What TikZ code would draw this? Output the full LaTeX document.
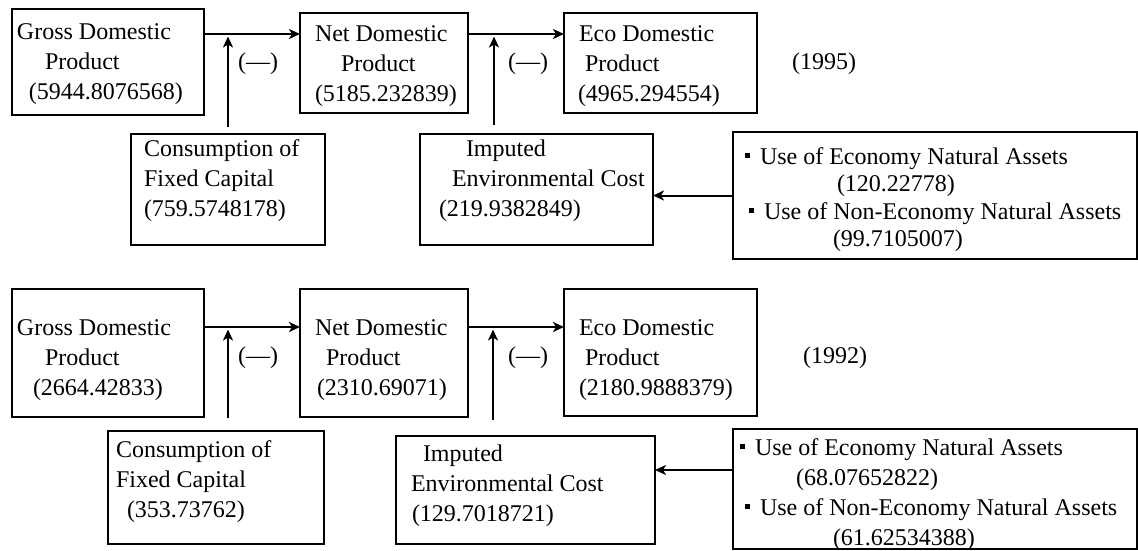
\documentclass[tikz,border=0pt]{standalone}
\usepackage{fontspec}
\setmainfont{Liberation Serif}
\usetikzlibrary{arrows.meta}
\newcommand\st{\rule{0pt}{20pt}}
\newcommand\bul{\rule[6.5pt]{5pt}{5pt}\hspace*{10pt}}
\newcommand\bxt[5]{\parbox[c][#2pt][t]{#1pt}{\raggedright\fontsize{24}{#4}\selectfont\vspace*{#3pt}\st #5}}
\tikzset{
  box/.style={draw=black, line width=1.9pt, inner sep=0pt, outer sep=0pt, anchor=north west},
  arr/.style={draw=black, line width=2pt, -{Stealth[length=11pt,width=10pt,inset=3pt]}},
  lbl/.style={inner sep=0pt, anchor=base west, font=\fontsize{24}{30}\selectfont}
}
\begin{document}
\begin{tikzpicture}[x=1pt,y=-1pt]
\useasboundingbox (0,0) rectangle (1138,550);
% ---- 1995 ----
\node[box] (gdpA) at (12,9) {\bxt{192}{106}{10}{30}{\hspace*{5pt}Gross Domestic\\\hspace*{33pt}Product\\\hspace*{17pt}(5944.8076568)}};
\node[box] (ndpA) at (300,13) {\bxt{168}{100}{8}{30}{\hspace*{15pt}Net Domestic\\\hspace*{41pt}Product\\\hspace*{15pt}(5185.232839)}};
\node[box] (edpA) at (564,13) {\bxt{193}{100}{8}{30}{\hspace*{15pt}Eco Domestic\\\hspace*{21pt}Product\\\hspace*{14pt}(4965.294554)}};
\node[box] (cfcA) at (131,134) {\bxt{194}{111}{2}{30}{\hspace*{13pt}Consumption of\\\hspace*{13pt}Fixed Capital\\\hspace*{13pt}(759.5748178)}};
\node[box] (iecA) at (420,134) {\bxt{233}{111}{2}{30}{\hspace*{46pt}Imputed\\\hspace*{32pt}Environmental Cost\\\hspace*{19pt}(219.9382849)}};
\node[box] (useA) at (733,132) {\bxt{404}{127}{12}{27.5}{\hspace*{12pt}\bul Use of Economy Natural Assets\\\hspace*{104pt}(120.22778)\\\hspace*{16pt}\bul Use of Non-Economy Natural Assets\\\hspace*{100pt}(99.7105007)}};
\node[lbl] (mA1) at (238,69) {(—)};
\node[lbl] (mA2) at (508,69) {(—)};
\node[lbl] (yA) at (792,69) {(1995)};
\coordinate (jA1) at (228,34);
\coordinate (sA1) at (228,127);
\coordinate (jA2) at (494,34);
\coordinate (sA2) at (494,125);
\draw[arr] (gdpA.east |- jA1) -- (ndpA.west |- jA1);
\draw[arr] (ndpA.east |- jA2) -- (edpA.west |- jA2);
\draw[arr, shorten >=2.5pt] (sA1) -- (jA1);
\draw[arr, shorten >=2.5pt] (sA2) -- (jA2);
\draw[arr] (useA.west) -- (useA.west -| iecA.east);
% ---- 1992 ----
\node[box] (gdpB) at (12,289) {\bxt{192}{128}{26}{30}{\hspace*{5pt}Gross Domestic\\\hspace*{33pt}Product\\\hspace*{21pt}(2664.42833)}};
\node[box] (ndpB) at (300,289) {\bxt{168}{128}{26}{30}{\hspace*{15pt}Net Domestic\\\hspace*{26pt}Product\\\hspace*{17pt}(2310.69071)}};
\node[box] (edpB) at (564,289) {\bxt{193}{127}{26}{30}{\hspace*{15pt}Eco Domestic\\\hspace*{21pt}Product\\\hspace*{15pt}(2180.9888379)}};
\node[box] (cfcB) at (108,431) {\bxt{216}{113}{6}{30}{\hspace*{8pt}Consumption of\\\hspace*{8pt}Fixed Capital\\\hspace*{19pt}(353.73762)}};
\node[box] (iecB) at (396,436) {\bxt{259}{108}{5}{30}{\hspace*{27pt}Imputed\\\hspace*{15pt}Environmental Cost\\\hspace*{16pt}(129.7018721)}};
\node[box] (useB) at (733,429) {\bxt{404}{120}{6}{30}{\hspace*{7pt}\bul Use of Economy Natural Assets\\\hspace*{63pt}(68.07652822)\\\hspace*{12pt}\bul Use of Non-Economy Natural Assets\\\hspace*{100pt}(61.62534388)}};
\node[lbl] (mB1) at (238,363) {(—)};
\node[lbl] (mB2) at (508,363) {(—)};
\node[lbl] (yB) at (803,363) {(1992)};
\coordinate (jB1) at (228,327);
\coordinate (sB1) at (228,418);
\coordinate (jB2) at (493,327);
\coordinate (sB2) at (493,420);
\draw[arr] (gdpB.east |- jB1) -- (ndpB.west |- jB1);
\draw[arr] (ndpB.east |- jB2) -- (edpB.west |- jB2);
\draw[arr, shorten >=2.5pt] (sB1) -- (jB1);
\draw[arr, shorten >=2.5pt] (sB2) -- (jB2);
\coordinate (aB) at ([yshift=19pt]useB.west);
\draw[arr] (aB) -- (aB -| iecB.east);
\end{tikzpicture}
\end{document}
